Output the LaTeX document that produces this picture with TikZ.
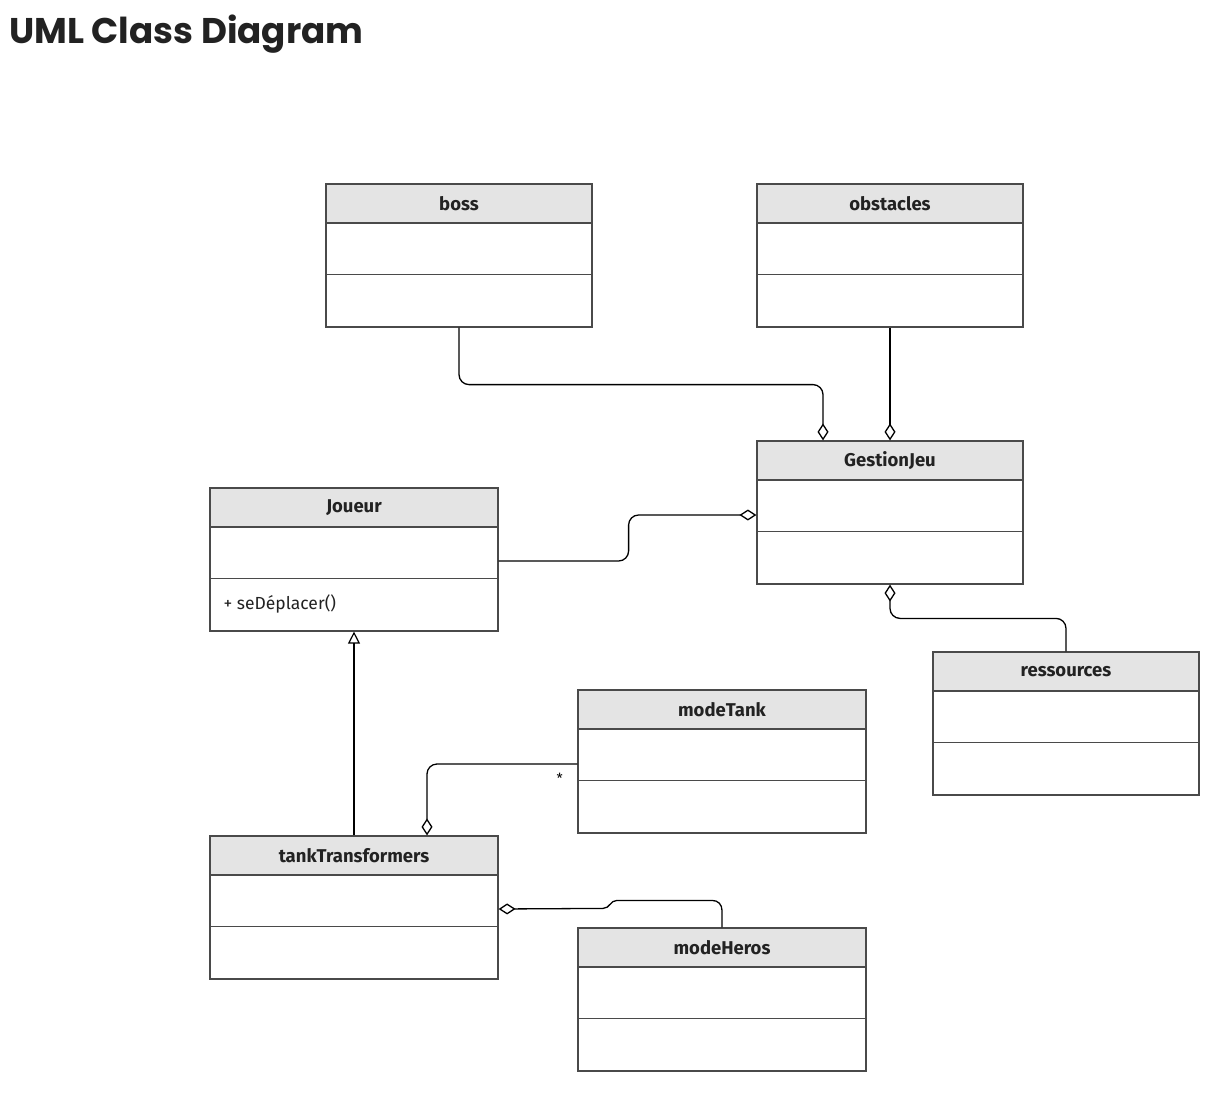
\documentclass[tikz,border=0pt]{standalone}
\usepackage{fontspec}
\setmainfont{Fira Sans}
\newfontfamily\titlefont{Poppins}
\usetikzlibrary{%
    arrows.meta,
    calc,
    positioning
}
\definecolor{boxgray}{HTML}{4A4A4A}
\definecolor{headgray}{HTML}{E4E4E4}
\definecolor{inkgray}{HTML}{222222}
\tikzset{
    classbox/.style = {draw=boxgray, line width=1.2pt, minimum height=143pt, inner sep=0pt},
    classhead/.style = {draw=boxgray, fill=headgray, line width=1.2pt, minimum height=39pt,
        inner sep=0pt, text=inkgray, font=\bfseries\fontsize{18.5}{22}\selectfont},
    boxline/.style = {draw=boxgray, line width=1.3pt},
    aggr/.style = {line width=1.3pt, -{Diamond[open, length=17pt, width=11pt, line width=1.3pt]}},
    inherit/.style = {line width=1.2pt, -{Triangle[open, length=12pt, width=12pt, line width=1.2pt]}}
}

\begin{document}
\begin{tikzpicture}[x=1pt, y=-1pt]
    \useasboundingbox (0,0) rectangle (1222,1102);
    \node[anchor=base west, inner sep=0pt, text=inkgray,
        font=\titlefont\bfseries\fontsize{35.7}{43}\selectfont] (title) at (9,44) {UML Class Diagram};

    \foreach \name/\x/\y/\w in {boss/459/255.5/266, obstacles/890/255.5/266,
            GestionJeu/890/512.5/266, Joueur/354/559.5/288, ressources/1066/723.5/266,
            modeTank/722/761.5/288, tankTransformers/354/907.5/288, modeHeros/722/999.5/288} {
        \node[classbox, minimum width=\w pt] (\name) at (\x,\y) {};
        \node[classhead, minimum width=\w pt, anchor=north] (\name-head) at (\name.north) {\name};
        \draw[boxline] ([yshift=-91pt]\name.north west) -- ([yshift=-91pt]\name.north east);
    }
    \node[anchor=west, inner sep=0pt, text=inkgray, font=\fontsize{17.5}{21}\selectfont]
        (Joueur-op) at ([xshift=14pt,yshift=-117pt]Joueur.north west) {+ seDéplacer()};

    \draw[aggr, rounded corners=10pt] (boss.south) -- ++(0,-57pt) -| ([xshift=-67pt]GestionJeu.north);
    \draw[aggr] (obstacles.south) -- (GestionJeu.north);
    \draw[aggr, rounded corners=10pt] ([yshift=-1.5pt]Joueur.east) -- ++(130pt,0) |- ([yshift=-2.5pt]GestionJeu.west);
    \draw[aggr, rounded corners=10pt] (ressources.north) -- ++(0,33pt) -| (GestionJeu.south);
    \draw[inherit] (tankTransformers.north) -- (Joueur.south);
    \draw[aggr, rounded corners=10pt] ([yshift=-2.5pt]modeTank.west)
        node[below left=8pt and 14pt, inner sep=0pt, font=\fontsize{14}{16}\selectfont] (tank-mult) {*}
        -| ([xshift=73pt]tankTransformers.north);
    % small jog on the way to modeHeros
    \draw[aggr] (modeHeros.north) -- ++(0,17pt)
        .. controls +(0,6pt) and +(6pt,0) .. ++(-10pt,10pt) -- ++(-95pt,0)
        .. controls +(-7pt,0) and +(7pt,0) .. ++(-14pt,-8pt)
        -- ([yshift=-1.5pt]tankTransformers.east);
\end{tikzpicture}
\end{document}
